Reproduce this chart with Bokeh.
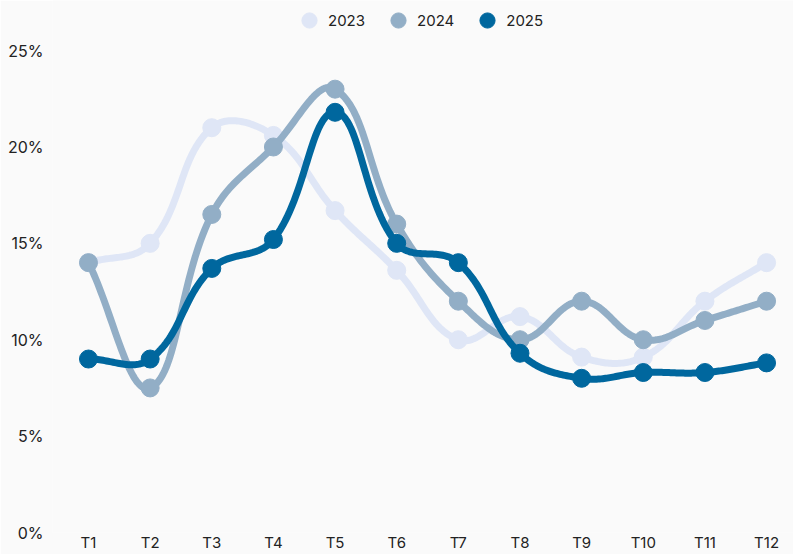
import numpy as np
from bokeh.plotting import figure
from bokeh.models import FixedTicker, PrintfTickFormatter, Range1d, Legend, LegendItem
from bokeh.embed import file_html
from bokeh.resources import INLINE

months = ["T1", "T2", "T3", "T4", "T5", "T6", "T7", "T8", "T9", "T10", "T11", "T12"]
years = ["2023", "2024", "2025"]
v2023 = [14.0, 15.0, 21.0, 20.6, 16.7, 13.6, 10.0, 11.2, 9.1, 9.1, 12.0, 14.0]
v2024 = [14.0, 7.5, 16.5, 20.0, 23.0, 16.0, 12.0, 10.0, 12.0, 10.0, 11.0, 12.0]
v2025 = [9.0, 9.0, 13.7, 15.2, 21.8, 15.0, 14.0, 9.3, 8.0, 8.3, 8.3, 8.8]
y_ticks = [0, 5, 10, 15, 20, 25]
colors = ["#dfe6f6", "#92aec6", "#00679e"]

FONT = "Inter"
W, H = 793, 554
X_PX = 61.64   # pixels per category step (for smoothing geometry)
Y_PX = 19.3    # pixels per percent


def smooth(vals, tension=0.4, steps=40):
    n = len(vals)
    px = np.arange(n) * X_PX
    py = np.array(vals, dtype=float) * Y_PX
    cp_prev = np.zeros((n, 2))
    cp_next = np.zeros((n, 2))
    for i in range(n):
        a = max(i - 1, 0)
        b = min(i + 1, n - 1)
        d01 = np.hypot(px[i] - px[a], py[i] - py[a])
        d12 = np.hypot(px[b] - px[i], py[b] - py[i])
        tot = d01 + d12
        s01 = d01 / tot if tot else 0
        s12 = d12 / tot if tot else 0
        fa, fb = tension * s01, tension * s12
        cp_prev[i] = [px[i] - fa * (px[b] - px[a]), py[i] - fa * (py[b] - py[a])]
        cp_next[i] = [px[i] + fb * (px[b] - px[a]), py[i] + fb * (py[b] - py[a])]
    xs, ys = [], []
    t = np.linspace(0, 1, steps)
    for i in range(n - 1):
        p0 = np.array([px[i], py[i]])
        p3 = np.array([px[i + 1], py[i + 1]])
        c1, c2 = cp_next[i], cp_prev[i + 1]
        tt = t if i == 0 else t[1:]
        pts = ((1 - tt) ** 3)[:, None] * p0 + (3 * (1 - tt) ** 2 * tt)[:, None] * c1 \
            + (3 * (1 - tt) * tt ** 2)[:, None] * c2 + (tt ** 3)[:, None] * p3
        xs.extend(pts[:, 0] / X_PX)
        ys.extend(pts[:, 1] / Y_PX)
    return xs, ys


p = figure(width=W, height=H, output_backend="svg", toolbar_location=None,
           x_range=Range1d(-0.584, 11.437), y_range=Range1d(0, 27.6),
           min_border_left=52, min_border_right=0, min_border_top=0, min_border_bottom=0,
           background_fill_color="#fafafa", border_fill_color="#fafafa")
p.outline_line_color = None
p.grid.visible = False

x = list(range(len(months)))
items = []
for name, vals, col in zip(years, [v2023, v2024, v2025], colors):
    sx, sy = smooth(vals)
    p.line(sx, sy, line_color=col, line_width=7, line_cap="round", line_join="round")
    r = p.scatter(x, vals, size=18, fill_color=col, line_color=col)
    items.append(LegendItem(label=name, renderers=[r]))

p.xaxis.ticker = FixedTicker(ticks=x)
p.xaxis.major_label_overrides = {i: m for i, m in enumerate(months)}
p.yaxis.ticker = FixedTicker(ticks=y_ticks)
p.yaxis.formatter = PrintfTickFormatter(format="%d%%")
for ax in (p.xaxis, p.yaxis):
    ax.axis_line_color = None
    ax.major_tick_line_color = None
    ax.minor_tick_line_color = None
    ax.major_tick_out = 0
    ax.major_tick_in = 0
    ax.minor_tick_out = 0
    ax.minor_tick_in = 0
    ax.major_label_text_font = FONT
    ax.major_label_text_color = "#222222"
p.xaxis.major_label_text_font_size = "15px"
p.yaxis.major_label_text_font_size = "16px"
p.xaxis.major_label_standoff = 0
p.yaxis.major_label_standoff = 9

legend = Legend(items=items, orientation="horizontal", location=(238, 493),
                glyph_width=38, glyph_height=38, label_standoff=0, spacing=14,
                padding=0, margin=0, border_line_alpha=0, background_fill_alpha=0,
                label_text_font=FONT, label_text_font_size="15px",
                label_text_color="#222222")
p.add_layout(legend)

html = file_html(p, INLINE)
html = html.replace("<body>", "<body style=\"background:#fafafa;\">", 1)
open("out.html", "w").write(html)
